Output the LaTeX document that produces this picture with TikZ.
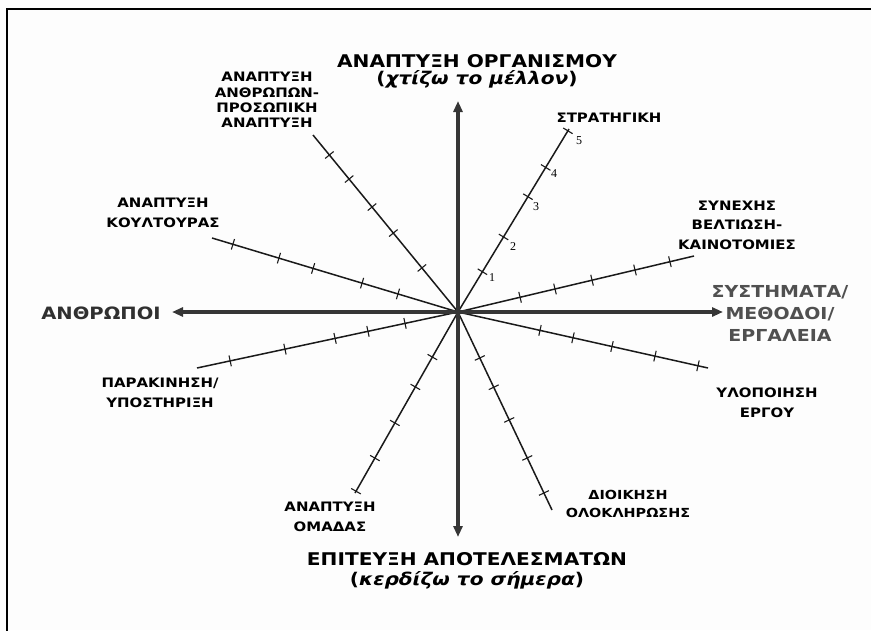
\documentclass[tikz,border=0pt]{standalone}
\usepackage{fontspec}
\setmainfont{DejaVu Sans}[FakeStretch=1.15]
\newfontfamily\numfont{Liberation Serif}
\usetikzlibrary{calc,arrows.meta}
\definecolor{axisgray}{HTML}{363636}
\definecolor{spokeink}{HTML}{1A1A1A}
\definecolor{paper}{HTML}{FDFDFD}
\definecolor{sidegray}{HTML}{303030}
\definecolor{toolgray}{HTML}{505050}
\begin{document}
\begin{tikzpicture}[x=1pt,y=-1pt,
  spoke/.style={line width=1.5pt, draw=spokeink},
  tickmark/.style={line width=1.1pt, draw=spokeink},
  axis/.style={line width=3.2pt, draw=axisgray, -{Triangle[length=11pt,width=9pt]}},
  lab/.style={font=\bfseries\fontsize{13}{19.5}\selectfont, align=center, inner sep=0pt, text=black},
  title/.style={font=\bfseries\fontsize{17.5}{20}\selectfont, inner sep=0pt, text=black},
  num/.style={font=\numfont\fontsize{12}{13}\selectfont, inner sep=0pt, text=black}]
\useasboundingbox (0,0) rectangle (871,630);
\fill[paper] (0,0) rectangle (871,630);
% frame (left and top edges)
\draw[line width=2pt, black] (7,640) -- (7,9) -- (880,9);

% centre and spoke ends
\coordinate (o) at (458,312);
\coordinate (e1) at (569,129);
\coordinate (e2) at (694,256);
\coordinate (e3) at (708,368);
\coordinate (e4) at (552,510);
\coordinate (e5) at (355,493);
\coordinate (e6) at (197,368);
\coordinate (e7) at (212,238);
\coordinate (e8) at (313,135);

% spokes with scale ticks
\foreach \e/\ts in {e1/{0.22,0.41,0.63,0.79,0.99},
                    e2/{0.263,0.411,0.568,0.75,0.898},
                    e3/{0.328,0.46,0.616,0.788,0.96},
                    e4/{0.232,0.38,0.545,0.737,0.914},
                    e5/{0.249,0.414,0.613,0.807,0.99},
                    e6/{0.203,0.345,0.471,0.663,0.873},
                    e7/{0.244,0.39,0.589,0.728,0.915},
                    e8/{0.249,0.446,0.593,0.751,0.887}} {
  \draw[spoke] (o) -- (\e);
  \foreach \t in \ts {
    \draw[tickmark] ($(o)!\t!(\e)!5.5pt!90:(\e)$) -- ($(o)!\t!(\e)!5.5pt!-90:(\e)$);
  }
}

% main axes
\coordinate (up) at (458,101);
\coordinate (down) at (458,537);
\coordinate (left) at (172,312);
\coordinate (right) at (723,312);
\draw[axis] (o) -- (up);
\draw[axis] (o) -- (down);
\draw[axis] (o) -- (left);
\draw[axis] (o) -- (right);

% scale numbers on the strategy spoke
\node[num] (n1) at (492,278) {1};
\node[num] (n2) at (513,247) {2};
\node[num] (n3) at (536,207) {3};
\node[num] (n4) at (554,174) {4};
\node[num] (n5) at (579,141) {5};

% axis titles
\node[title] (t1) at (477,61) {ΑΝΑΠΤΥΞΗ ΟΡΓΑΝΙΣΜΟΥ};
\node[title] (t2) at (477,79) {(\textit{χτίζω το μέλλον})};
\node[title] (b1) at (467,559) {ΕΠΙΤΕΥΞΗ ΑΠΟΤΕΛΕΣΜΑΤΩΝ};
\node[title] (b2) at (467,580) {(\textit{κερδίζω το σήμερα})};
\node[font=\bfseries\fontsize{17}{20}\selectfont, inner sep=0pt, text=sidegray] (people) at (101,313) {ΑΝΘΡΩΠΟΙ};
\node[font=\bfseries\fontsize{16.5}{22}\selectfont, align=center, inner sep=0pt, text=toolgray] (tools) at (780,313) {ΣΥΣΤΗΜΑΤΑ/\\ΜΕΘΟΔΟΙ/\\ΕΡΓΑΛΕΙΑ};

% spoke labels
\node[lab] (l1) at (609,118) {ΣΤΡΑΤΗΓΙΚΗ};
\node[lab] (l2) at (737,225) {ΣΥΝΕΧΗΣ\\ΒΕΛΤΙΩΣΗ-\\ΚΑΙΝΟΤΟΜΙΕΣ};
\node[lab] (l3) at (767,403) {ΥΛΟΠΟΙΗΣΗ\\ΕΡΓΟΥ};
\node[lab, font=\bfseries\fontsize{12.5}{18}\selectfont] (l4) at (628,504) {ΔΙΟΙΚΗΣΗ\\ΟΛΟΚΛΗΡΩΣΗΣ};
\node[lab] (l5) at (330,517) {ΑΝΑΠΤΥΞΗ\\ΟΜΑΔΑΣ};
\node[lab] (l6) at (160,393) {ΠΑΡΑΚΙΝΗΣΗ/\\ΥΠΟΣΤΗΡΙΞΗ};
\node[lab] (l7) at (163,213) {ΑΝΑΠΤΥΞΗ\\ΚΟΥΛΤΟΥΡΑΣ};
\node[lab, font=\bfseries\fontsize{13}{15.3}\selectfont] (l8) at (267,100) {ΑΝΑΠΤΥΞΗ\\ΑΝΘΡΩΠΩΝ-\\ΠΡΟΣΩΠΙΚΗ\\ΑΝΑΠΤΥΞΗ};
\end{tikzpicture}
\end{document}
